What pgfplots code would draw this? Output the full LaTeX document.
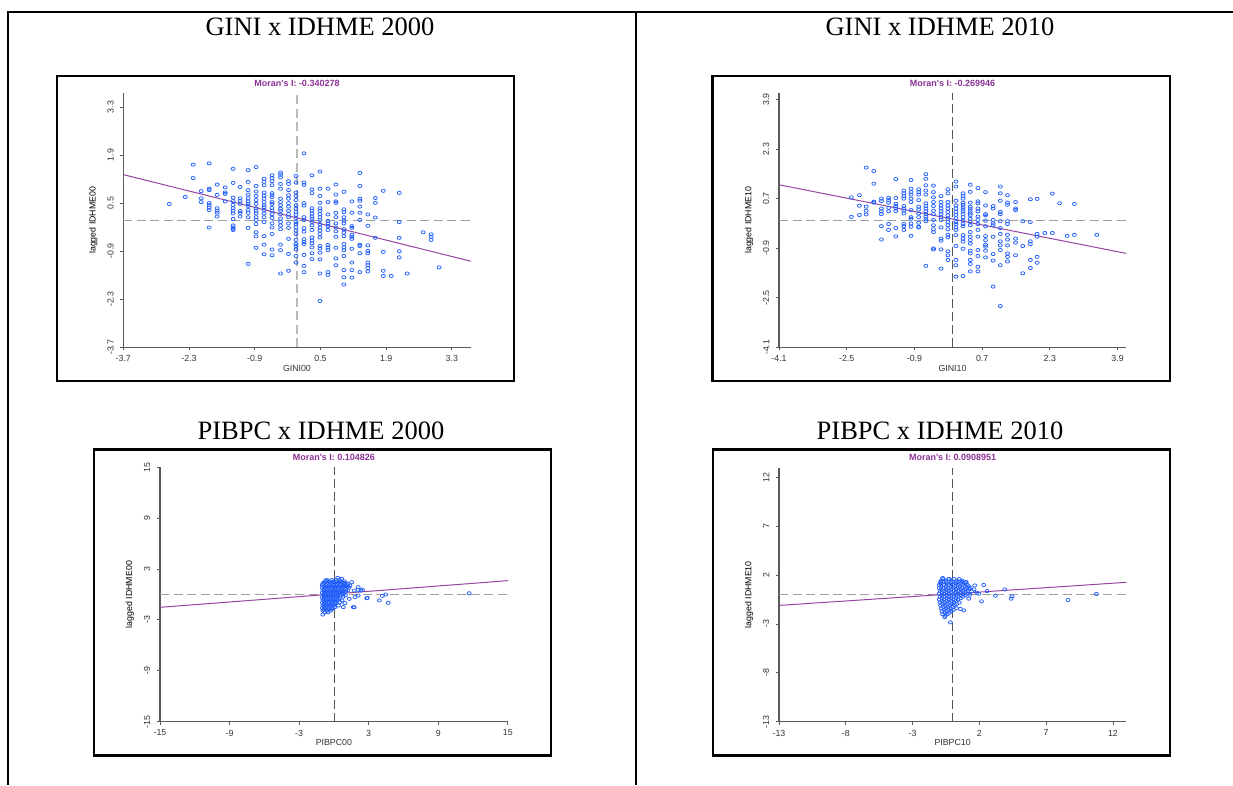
\documentclass[border=0pt]{standalone}
\usepackage{fontspec}
\setmainfont{Liberation Serif}
\newfontfamily\arial{Liberation Sans}
\usepackage{pgfplots}
\pgfplotsset{compat=1.18}

\definecolor{ptblue}{RGB}{35,95,250}
\definecolor{regpurple}{RGB}{150,70,160}
\definecolor{moranpurple}{RGB}{140,50,150}
\definecolor{dashlight}{RGB}{160,160,160}
\definecolor{dashpale}{RGB}{185,185,185}
\definecolor{dashdark}{RGB}{85,85,85}
\definecolor{axgray}{RGB}{90,90,90}
\definecolor{tickgray}{RGB}{50,50,50}

\newcommand\labfont{\arial\fontsize{8.8}{9}\selectfont}
\newcommand\morfont{\arial\bfseries\fontsize{9}{10}\selectfont}

\pgfplotsset{
  every axis title shift=0pt,
  moran/.style={
    scale only axis, width=347.3pt, height=254pt,
    axis x line*=bottom, axis y line*=left,
    axis line style={draw=axgray, line width=1.1pt},
    tick align=outside, major tick length=3pt,
    tick style={draw=axgray, line width=0.9pt},
    ticklabel style={font=\labfont, text=tickgray},
    xticklabel style={anchor=north, inner sep=5pt},
    yticklabel style={rotate=90, anchor=south, inner sep=6.5pt},
    xlabel style={font=\labfont, text=tickgray, at={(axis description cs:0.5,-0.083)}, anchor=center},
    ylabel style={font=\labfont, text=black, at={(axis description cs:-0.0864,0.5)}, anchor=center},
    title style={font=\morfont, text=moranpurple, at={(axis description cs:0.5,1.039)}, anchor=center},
  },
  pts/.style={only marks, mark=o, mark size=2pt, mark options={draw=ptblue, line width=0.75pt, yscale=0.8}},
  hzero/.style={draw=dashlight, line width=1pt, dash pattern=on 9pt off 4.5pt, no marks},
  vzero/.style={draw=dashdark, line width=0.8pt, dash pattern=on 9pt off 4pt, no marks},
  reg/.style={draw=regpurple, line width=1pt, no marks},
}

\begin{document}
\begin{tikzpicture}[x=1pt,y=1pt]

% table rules
\draw[line width=2pt] (7,773) -- (1233,773);
\draw[line width=2pt] (8,773) -- (8,0);
\draw[line width=2pt] (636,773) -- (636,0);

% cell titles
\node[anchor=base, font=\fontsize{26.5}{28}\selectfont] at (320,749.5) {GINI x IDHME 2000};
\node[anchor=base, font=\fontsize{26.5}{28}\selectfont] at (940,749.5) {GINI x IDHME 2010};
\node[anchor=base, font=\fontsize{26.5}{28}\selectfont] at (321,345) {PIBPC x IDHME 2000};
\node[anchor=base, font=\fontsize{26.5}{28}\selectfont] at (940,345) {PIBPC x IDHME 2010};

% frames round the plots
\draw[line width=2.8pt] (57,404) rectangle (514,709);
\draw[line width=2.8pt] (712.7,404) rectangle (1170,709);
\draw[line width=2.8pt] (94,29.5) rectangle (551,335.7);
\draw[line width=2.8pt] (713,29.5) rectangle (1170,335.7);

% ---------- GINI x IDHME 2000
\begin{axis}[moran, at={(123.3pt,437.7pt)}, anchor=south west,
  xmin=-3.7, xmax=3.7, ymin=-3.7, ymax=3.7,
  xtick={-3.7,-2.3,-0.9,0.5,1.9,3.3}, xticklabels={-3.7,-2.3,-0.9,0.5,1.9,3.3},
  ytick={-3.7,-2.3,-0.9,0.5,1.9,3.3}, yticklabels={-3.7,-2.3,-0.9,0.5,1.9,3.3},
  xlabel={GINI00}, ylabel={lagged IDHME00}, title={Moran's I: -0.340278}]
\addplot[hzero] coordinates {(-3.7,0) (3.7,0)};
\addplot[hzero, draw=dashpale, line width=1.6pt] coordinates {(0,-3.7) (0,3.7)};
\addplot[pts] coordinates {
(-2.72,0.475) (-2.38,0.68) (-2.21,1.62) (-2.21,1.23)
(-2.04,0.85) (-2.04,0.64) (-2.04,0.53)
(-1.87,1.66) (-1.87,0.92) (-1.87,0.88) (-1.87,0.50) (-1.87,0.44) (-1.87,0.37) (-1.87,0.30) (-1.87,-0.21)
(-1.70,1.04) (-1.70,0.74) (-1.70,0.35) (-1.70,0.28) (-1.70,0.22) (-1.70,0.11)
(-1.53,0.96) (-1.53,0.81) (-1.53,0.77) (-1.53,0.55)
(-1.36,1.50) (-1.36,1.09) (-1.36,0.66) (-1.36,0.56) (-1.36,0.45) (-1.36,0.35) (-1.36,0.28) (-1.36,0.20) (-1.36,0.04) (-1.36,-0.15) (-1.36,-0.21) (-1.36,-0.25) (-1.36,-0.28)
(-1.21,0.97) (-1.21,0.64) (-1.21,0.57) (-1.21,0.48) (-1.21,0.27) (-1.21,0.22) (-1.21,0.11)
(-1.04,1.46) (-1.04,1.12) (-1.04,0.88) (-1.04,0.75) (-1.04,0.64) (-1.04,0.55) (-1.04,0.48) (-1.04,0.42) (-1.04,0.30) (-1.04,0.22) (-1.04,0.09) (-1.04,-0.22) (-1.04,-1.27)
(-0.87,1.55) (-0.87,1.00) (-0.87,0.84) (-0.87,0.71) (-0.87,0.59) (-0.87,0.48) (-0.87,0.35) (-0.87,0.28) (-0.87,0.20) (-0.87,0.09) (-0.87,0.01) (-0.87,-0.11) (-0.87,-0.35) (-0.87,-0.47) (-0.87,-0.80)
(-0.70,1.21) (-0.70,1.12) (-0.70,1.02) (-0.70,0.81) (-0.70,0.72) (-0.70,0.63) (-0.70,0.53) (-0.70,0.44) (-0.70,0.38) (-0.70,0.30) (-0.70,0.20) (-0.70,0.09) (-0.70,-0.05) (-0.70,-0.46) (-0.70,-0.71) (-0.70,-0.99)
(-0.53,1.31) (-0.53,1.23) (-0.53,1.14) (-0.53,1.02) (-0.53,0.79) (-0.53,0.73) (-0.53,0.67) (-0.53,0.53) (-0.53,0.48) (-0.53,0.36) (-0.53,0.28) (-0.53,0.18) (-0.53,0.07) (-0.53,-0.09) (-0.53,-0.21) (-0.53,-0.40) (-0.53,-0.85) (-0.53,-1.02)
(-0.35,1.39) (-0.35,1.33) (-0.35,1.25) (-0.35,1.06) (-0.35,0.92) (-0.35,0.63) (-0.35,0.53) (-0.35,0.44) (-0.35,0.34) (-0.35,0.28) (-0.35,0.18) (-0.35,0.05) (-0.35,-0.05) (-0.35,-0.15) (-0.35,-0.26) (-0.35,-0.71) (-0.35,-0.87) (-0.35,-1.55)
(-0.18,1.14) (-0.18,1.06) (-0.18,0.88) (-0.18,0.73) (-0.18,0.63) (-0.18,0.50) (-0.18,0.40) (-0.18,0.28) (-0.18,0.18) (-0.18,0.09) (-0.18,-0.09) (-0.18,-0.22) (-0.18,-0.54) (-0.18,-0.98) (-0.18,-1.47)
(-0.02,1.29) (-0.02,1.10) (-0.02,0.81) (-0.02,0.71) (-0.02,0.59) (-0.02,0.44) (-0.02,0.34) (-0.02,0.24) (-0.02,0.16) (-0.02,0.07) (-0.02,-0.05) (-0.02,-0.11) (-0.02,-0.20) (-0.02,-0.30) (-0.02,-0.40) (-0.02,-0.57) (-0.02,-0.69) (-0.02,-0.75) (-0.02,-0.85) (-0.02,-1.04) (-0.02,-1.23)
(0.15,1.95) (0.15,1.10) (0.15,1.03) (0.15,0.50) (0.15,0.43) (0.15,0.09) (0.15,0.01) (0.15,-0.23) (0.15,-0.33) (0.15,-0.55) (0.15,-0.63) (0.15,-0.69) (0.15,-1.01) (0.15,-1.33) (0.15,-1.51)
(0.32,1.31) (0.32,0.90) (0.32,0.79) (0.32,0.35) (0.32,0.28) (0.32,0.20) (0.32,0.11) (0.32,0.05) (0.32,-0.05) (0.32,-0.15) (0.32,-0.28) (0.32,-0.50) (0.32,-0.59) (0.32,-0.67) (0.32,-0.79) (0.32,-0.96) (0.32,-1.13)
(0.49,1.42) (0.49,0.92) (0.49,0.71) (0.49,0.51) (0.49,0.35) (0.49,0.28) (0.49,0.18) (0.49,0.09) (0.49,0.01) (0.49,-0.11) (0.49,-0.21) (0.49,-0.30) (0.49,-0.40) (0.49,-0.50) (0.49,-0.75) (0.49,-0.82) (0.49,-0.94) (0.49,-1.14) (0.49,-1.55) (0.49,-2.35)
(0.66,0.92) (0.66,0.53) (0.66,0.17) (0.66,-0.02) (0.66,-0.09) (0.66,-0.17) (0.66,-0.28) (0.66,-0.72) (0.66,-0.79) (0.66,-0.87) (0.66,-1.51) (0.66,-1.59)
(0.83,1.04) (0.83,0.75) (0.83,0.55) (0.83,0.51) (0.83,0.22) (0.83,0.09) (0.83,-0.09) (0.83,-0.21) (0.83,-0.32) (0.83,-0.48) (0.83,-0.80) (0.83,-1.11) (0.83,-1.31)
(1.00,0.83) (1.00,0.32) (1.00,0.24) (1.00,0.09) (1.00,-0.01) (1.00,-0.09) (1.00,-0.26) (1.00,-0.36) (1.00,-0.46) (1.00,-0.69) (1.00,-0.79) (1.00,-0.87) (1.00,-1.04) (1.00,-1.45) (1.00,-1.66) (1.00,-1.87)
(1.17,0.55) (1.17,0.22) (1.17,-0.17) (1.17,-0.22) (1.17,-0.42) (1.17,-0.48) (1.17,-0.54) (1.17,-0.83) (1.17,-1.23) (1.17,-1.45) (1.17,-1.67)
(1.34,1.38) (1.34,1.00) (1.34,0.63) (1.34,0.57) (1.34,0.40) (1.34,0.22) (1.34,0.01) (1.34,-0.71) (1.34,-0.75) (1.34,-0.96) (1.34,-1.51)
(1.51,0.17) (1.51,-0.16) (1.51,-0.73) (1.51,-0.89) (1.51,-0.96) (1.51,-1.23) (1.51,-1.31) (1.51,-1.39) (1.51,-1.49)
(1.67,0.65) (1.67,0.51) (1.67,0.08) (1.67,-0.51)
(1.84,0.86) (1.84,-0.92) (1.84,-1.47) (1.84,-1.62)
(2.01,-1.62)
(2.18,0.80) (2.18,-0.05) (2.18,-0.51) (2.18,-0.90) (2.18,-1.08)
(2.35,-1.55) (2.69,-0.35) (2.86,-0.41) (2.86,-0.48) (2.86,-0.57) (3.03,-1.37)
};
\addplot[reg] coordinates {(-3.7,1.33) (3.7,-1.19)};
\end{axis}

% ---------- GINI x IDHME 2010
\begin{axis}[moran, at={(779pt,437.7pt)}, anchor=south west, width=347pt,
  xmin=-4.1, xmax=4.1, ymin=-4.1, ymax=4.1,
  xtick={-4.1,-2.5,-0.9,0.7,2.3,3.9}, xticklabels={-4.1,-2.5,-0.9,0.7,2.3,3.9},
  ytick={-4.1,-2.5,-0.9,0.7,2.3,3.9}, yticklabels={-4.1,-2.5,-0.9,0.7,2.3,3.9},
  xlabel={GINI10}, ylabel={lagged IDHME10}, title={Moran's I: -0.269946}]
\addplot[hzero] coordinates {(-4.1,0) (4.1,0)};
\addplot[vzero] coordinates {(0,-4.1) (0,4.1)};
\addplot[pts] coordinates {
(-2.39,0.74) (-2.39,0.11)
(-2.20,0.81) (-2.20,0.47) (-2.20,0.17)
(-2.04,1.70) (-2.04,0.44) (-2.04,0.31) (-2.04,0.19)
(-1.86,1.59) (-1.86,1.18) (-1.86,0.60) (-1.86,0.57)
(-1.68,0.70) (-1.68,0.62) (-1.68,0.38) (-1.68,0.29) (-1.68,0.20) (-1.68,-0.19) (-1.68,-0.62)
(-1.51,0.72) (-1.51,0.65) (-1.51,0.57) (-1.51,0.40) (-1.51,0.29) (-1.51,-0.12) (-1.51,-0.31)
(-1.34,1.33) (-1.34,0.72) (-1.34,0.53) (-1.34,0.46) (-1.34,0.38) (-1.34,0.30) (-1.34,-0.25) (-1.34,-0.52)
(-1.15,0.96) (-1.15,0.87) (-1.15,0.78) (-1.15,0.70) (-1.15,0.46) (-1.15,0.38) (-1.15,0.31) (-1.15,0.22) (-1.15,-0.12) (-1.15,-0.19) (-1.15,-0.31)
(-0.98,1.30) (-0.98,1.02) (-0.98,0.91) (-0.98,0.83) (-0.98,0.70) (-0.98,0.59) (-0.98,0.33) (-0.98,0.10) (-0.98,0.05) (-0.98,-0.10) (-0.98,-0.21) (-0.98,-0.50)
(-0.80,1.00) (-0.80,0.91) (-0.80,0.83) (-0.80,0.65) (-0.80,0.44) (-0.80,0.35) (-0.80,0.22) (-0.80,0.10) (-0.80,-0.08) (-0.80,-0.21) (-0.80,-0.23)
(-0.63,1.49) (-0.63,1.34) (-0.63,1.13) (-0.63,0.96) (-0.63,0.83) (-0.63,0.55) (-0.63,0.46) (-0.63,0.38) (-0.63,0.29) (-0.63,0.20) (-0.63,0.12) (-0.63,0.03) (-0.63,-0.03) (-0.63,-1.47)
(-0.45,1.12) (-0.45,0.91) (-0.45,0.74) (-0.45,0.59) (-0.45,0.46) (-0.45,0.31) (-0.45,0.20) (-0.45,0.01) (-0.45,-0.16) (-0.45,-0.29) (-0.45,-0.38) (-0.45,-0.91) (-0.45,-0.94)
(-0.27,0.78) (-0.27,0.59) (-0.27,0.48) (-0.27,0.38) (-0.27,0.29) (-0.27,0.20) (-0.27,0.10) (-0.27,0.01) (-0.27,-0.23) (-0.27,-0.59) (-0.27,-0.66) (-0.27,-0.94) (-0.27,-1.56)
(-0.11,1.00) (-0.11,0.87) (-0.11,0.59) (-0.11,0.48) (-0.11,0.38) (-0.11,0.27) (-0.11,0.16) (-0.11,0.05) (-0.11,-0.06) (-0.11,-0.16) (-0.11,-0.29) (-0.11,-0.47) (-0.11,-0.55) (-0.11,-1.00) (-0.11,-1.13) (-0.11,-1.28)
(0.08,1.25) (0.08,1.09) (0.08,0.63) (0.08,0.48) (0.08,0.38) (0.08,0.27) (0.08,0.18) (0.08,0.07) (0.08,-0.06) (0.08,-0.12) (0.08,-0.23) (0.08,-0.31) (0.08,-0.48) (0.08,-0.83) (0.08,-1.28) (0.08,-1.45) (0.08,-1.82)
(0.25,0.87) (0.25,0.78) (0.25,0.70) (0.25,0.57) (0.25,0.50) (0.25,0.42) (0.25,0.35) (0.25,0.29) (0.25,0.20) (0.25,0.10) (0.25,-0.01) (0.25,-0.12) (0.25,-0.19) (0.25,-0.48) (0.25,-0.59) (0.25,-0.69) (0.25,-0.92) (0.25,-1.80)
(0.42,1.15) (0.42,0.92) (0.42,0.57) (0.42,0.44) (0.42,0.38) (0.42,0.29) (0.42,0.22) (0.42,0.16) (0.42,0.05) (0.42,-0.06) (0.42,-0.16) (0.42,-0.38) (0.42,-0.53) (0.42,-0.64) (0.42,-0.75) (0.42,-0.98) (0.42,-1.07) (0.42,-1.28) (0.42,-1.41) (0.42,-1.65)
(0.60,1.04) (0.60,0.61) (0.60,0.55) (0.60,0.38) (0.60,0.29) (0.60,0.12) (0.60,0.01) (0.60,-0.12) (0.60,-0.31) (0.60,-0.53) (0.60,-0.96) (0.60,-1.15) (0.60,-1.50) (0.60,-1.65)
(0.78,0.91) (0.78,0.48) (0.78,0.20) (0.78,0.16) (0.78,-0.01) (0.78,-0.19) (0.78,-0.51) (0.78,-0.64) (0.78,-0.79) (0.78,-0.85) (0.78,-0.98) (0.78,-1.20)
(0.96,0.46) (0.96,0.38) (0.96,0.01) (0.96,-0.10) (0.96,-0.16) (0.96,-0.53) (0.96,-1.09) (0.96,-1.30) (0.96,-2.14)
(1.13,1.09) (1.13,0.87) (1.13,0.63) (1.13,0.27) (1.13,0.20) (1.13,-0.03) (1.13,-0.25) (1.13,-0.44) (1.13,-0.68) (1.13,-0.81) (1.13,-0.96) (1.13,-1.45) (1.13,-2.77)
(1.30,0.81) (1.30,0.57) (1.30,0.50) (1.30,-0.03) (1.30,-0.12) (1.30,-0.47) (1.30,-0.62) (1.30,-0.81) (1.30,-1.07) (1.30,-1.18) (1.30,-1.33)
(1.49,0.59) (1.49,0.38) (1.49,0.33) (1.49,-0.59) (1.49,-0.72) (1.49,-1.13)
(1.66,-0.03) (1.66,-0.83) (1.66,-1.71)
(1.84,0.68) (1.84,-0.06) (1.84,-0.68) (1.84,-0.77) (1.84,-1.28) (1.84,-1.54)
(2.00,0.69) (2.00,-0.44) (2.00,-0.53) (2.00,-1.18) (2.00,-1.37)
(2.18,-0.41) (2.36,0.86) (2.36,-0.41) (2.53,0.55) (2.71,-0.50) (2.88,0.53) (2.88,-0.47) (3.41,-0.47)
};
\addplot[reg] coordinates {(-4.1,1.147) (4.1,-1.067)};
\end{axis}

% ---------- PIBPC x IDHME 2000
\begin{axis}[moran, at={(160pt,63.3pt)}, anchor=south west, width=347.8pt, height=254.4pt,
  xmin=-15, xmax=15, ymin=-15, ymax=15,
  xtick={-15,-9,-3,3,9,15}, xticklabels={-15,-9,-3,3,9,15},
  ytick={-15,-9,-3,3,9,15}, yticklabels={-15,-9,-3,3,9,15},
  xlabel={PIBPC00}, ylabel={lagged IDHME00}, title={Moran's I: 0.104826}]
\addplot[hzero] coordinates {(-15,0) (15,0)};
\addplot[vzero] coordinates {(0,-15) (0,15)};
\addplot[pts] coordinates {
(0.33,1.97) (-0.71,1.65) (0.67,1.85) (0.95,1.26) (1.39,1.06) (1.53,1.45) (2.10,0.86) (1.76,0.47)
(2.33,0.47) (2.10,-0.12) (1.82,-0.31) (1.33,-0.51) (0.95,-1.02) (1.67,-1.49) (0.81,-1.49) (0.52,-0.90)
(-0.96,-2.36) (0.09,-1.49) (2.83,-0.44) (3.92,-0.70) (4.18,-0.16) (4.47,0.00) (4.69,-0.98) (11.66,0.15)
(2.88,-0.39) (1.76,-1.50) (2.08,0.55) (2.46,0.55)
(-0.6,1.7) (-0.2,1.7) (0.2,1.7) (0.5,1.7)
(-0.9,1.4) (-0.5,1.4) (-0.2,1.4) (0.1,1.4) (0.4,1.4) (0.7,1.4) (1.0,1.4)
(-1.0,1.1) (-0.7,1.1) (-0.4,1.1) (-0.1,1.1) (0.2,1.1) (0.5,1.1) (0.8,1.1) (1.1,1.1)
(-1.0,0.8) (-0.75,0.8) (-0.45,0.8) (-0.15,0.8) (0.15,0.8) (0.45,0.8) (0.75,0.8) (1.05,0.8) (1.3,0.8)
(-0.95,0.5) (-0.65,0.5) (-0.35,0.5) (-0.05,0.5) (0.25,0.5) (0.55,0.5) (0.85,0.5) (1.2,0.5)
(-1.0,0.2) (-0.7,0.2) (-0.4,0.2) (-0.1,0.2) (0.2,0.2) (0.5,0.2) (0.9,0.2)
(-0.95,-0.1) (-0.65,-0.1) (-0.35,-0.1) (-0.05,-0.1) (0.25,-0.1) (0.6,-0.1) (1.0,-0.1)
(-1.0,-0.4) (-0.7,-0.4) (-0.4,-0.4) (-0.1,-0.4) (0.2,-0.4) (0.5,-0.4)
(-0.95,-0.7) (-0.65,-0.7) (-0.35,-0.7) (-0.05,-0.7) (0.3,-0.7) (0.7,-0.7)
(-1.0,-1.0) (-0.7,-1.0) (-0.4,-1.0) (-0.1,-1.0) (0.2,-1.0)
(-0.95,-1.3) (-0.65,-1.3) (-0.35,-1.3) (0.0,-1.3) (0.4,-1.3)
(-1.0,-1.6) (-0.7,-1.6) (-0.4,-1.6) (-0.1,-1.6)
(-0.95,-1.9) (-0.6,-1.9) (-0.3,-1.9) (-0.8,-2.1) (-0.5,-2.1)
(-0.75,1.55) (-0.35,1.55) (0.0,1.55) (0.3,1.55) (0.6,1.55) (0.9,1.55)
(-0.95,1.25) (-0.6,1.25) (-0.3,1.25) (0.0,1.25) (0.3,1.25) (0.6,1.25) (0.9,1.25) (1.2,1.25)
(-0.85,0.95) (-0.55,0.95) (-0.25,0.95) (0.05,0.95) (0.35,0.95) (0.65,0.95) (0.95,0.95) (1.2,0.95)
(-0.85,0.65) (-0.55,0.65) (-0.25,0.65) (0.05,0.65) (0.35,0.65) (0.65,0.65) (1.0,0.65)
(-0.85,0.35) (-0.55,0.35) (-0.25,0.35) (0.05,0.35) (0.35,0.35) (0.7,0.35) (1.05,0.35)
(-0.85,0.05) (-0.55,0.05) (-0.25,0.05) (0.05,0.05) (0.4,0.05) (0.75,0.05)
(-0.85,-0.25) (-0.55,-0.25) (-0.25,-0.25) (0.05,-0.25) (0.35,-0.25) (0.8,-0.25)
(-0.85,-0.55) (-0.55,-0.55) (-0.25,-0.55) (0.05,-0.55) (0.4,-0.55)
(-0.85,-0.85) (-0.5,-0.85) (-0.2,-0.85) (0.1,-0.85)
(-0.85,-1.15) (-0.55,-1.15) (-0.25,-1.15) (0.1,-1.15)
(-0.85,-1.45) (-0.55,-1.45) (-0.25,-1.45)
(-0.85,-1.75) (-0.5,-1.75) (-0.2,-1.75)
};
\addplot[reg] coordinates {(-15,-1.512) (15,1.632)};
\end{axis}

% ---------- PIBPC x IDHME 2010
\begin{axis}[moran, at={(779pt,63.3pt)}, anchor=south west,
  xmin=-13, xmax=13, ymin=-13, ymax=13,
  xtick={-13,-8,-3,2,7,12}, xticklabels={-13,-8,-3,2,7,12},
  ytick={-13,-8,-3,2,7,12}, yticklabels={-13,-8,-3,2,7,12},
  xlabel={PIBPC10}, ylabel={lagged IDHME10}, title={Moran's I: 0.0908951}]
\addplot[hzero] coordinates {(-13,0) (13,0)};
\addplot[vzero] coordinates {(0,-13) (0,13)};
\addplot[pts] coordinates {
(-0.17,-2.83) (1.65,0.95) (2.33,1.00) (2.16,-0.68) (3.20,-0.10) (3.90,0.54) (4.38,-0.41) (4.45,-0.18)
(1.95,0.10) (2.58,0.37) (0.83,-1.60) (0.58,-1.46) (8.64,-0.54) (10.76,0.07) (-0.75,1.71) (-0.25,1.60)
(-0.92,1.16) (0.58,1.36) (1.00,1.26) (1.41,0.34) (1.28,0.00) (1.60,0.55) (1.80,0.20) (1.20,-0.40)
(-0.7,1.6) (-0.3,1.6) (0.1,1.6) (0.5,1.6)
(-0.9,1.3) (-0.5,1.3) (-0.1,1.3) (0.3,1.3) (0.7,1.3) (1.0,1.3)
(-1.0,1.0) (-0.65,1.0) (-0.3,1.0) (0.05,1.0) (0.4,1.0) (0.75,1.0) (1.1,1.0)
(-1.0,0.7) (-0.7,0.7) (-0.35,0.7) (0.0,0.7) (0.35,0.7) (0.7,0.7) (1.05,0.7) (1.3,0.7)
(-0.95,0.4) (-0.6,0.4) (-0.25,0.4) (0.1,0.4) (0.45,0.4) (0.8,0.4) (1.15,0.4)
(-1.0,0.1) (-0.65,0.1) (-0.3,0.1) (0.05,0.1) (0.4,0.1) (0.75,0.1) (1.1,0.1)
(-0.95,-0.2) (-0.6,-0.2) (-0.25,-0.2) (0.1,-0.2) (0.45,-0.2) (0.8,-0.2)
(-1.0,-0.5) (-0.65,-0.5) (-0.3,-0.5) (0.05,-0.5) (0.4,-0.5)
(-0.95,-0.8) (-0.6,-0.8) (-0.25,-0.8) (0.1,-0.8) (0.5,-0.8)
(-0.9,-1.1) (-0.55,-1.1) (-0.2,-1.1) (0.15,-1.1)
(-0.85,-1.4) (-0.5,-1.4) (-0.15,-1.4) (0.3,-1.4)
(-0.8,-1.7) (-0.45,-1.7) (-0.1,-1.7) (-0.75,-2.0) (-0.4,-2.0) (-0.6,-2.3)
(-0.85,1.45) (-0.5,1.45) (-0.1,1.45) (0.3,1.45) (0.7,1.45)
(-0.85,1.15) (-0.45,1.15) (-0.1,1.15) (0.25,1.15) (0.6,1.15) (0.95,1.15)
(-0.85,0.85) (-0.5,0.85) (-0.15,0.85) (0.2,0.85) (0.55,0.85) (0.9,0.85) (1.2,0.85)
(-0.85,0.55) (-0.5,0.55) (-0.15,0.55) (0.25,0.55) (0.6,0.55) (0.95,0.55) (1.25,0.55)
(-0.8,0.25) (-0.45,0.25) (-0.1,0.25) (0.25,0.25) (0.6,0.25) (0.95,0.25)
(-0.8,-0.05) (-0.45,-0.05) (-0.1,-0.05) (0.25,-0.05) (0.6,-0.05) (0.95,-0.05)
(-0.8,-0.35) (-0.45,-0.35) (-0.1,-0.35) (0.25,-0.35) (0.6,-0.35)
(-0.8,-0.65) (-0.45,-0.65) (-0.1,-0.65) (0.25,-0.65)
(-0.75,-0.95) (-0.4,-0.95) (-0.05,-0.95) (0.3,-0.95)
(-0.7,-1.25) (-0.35,-1.25) (0.0,-1.25)
(-0.65,-1.55) (-0.3,-1.55) (0.05,-1.55)
(-0.6,-1.85) (-0.25,-1.85) (-0.55,-2.15)
};
\addplot[reg] coordinates {(-13,-1.097) (13,1.267)};
\end{axis}

\pgfresetboundingbox
\useasboundingbox (0,0) rectangle (1233,785);
\end{tikzpicture}
\end{document}
